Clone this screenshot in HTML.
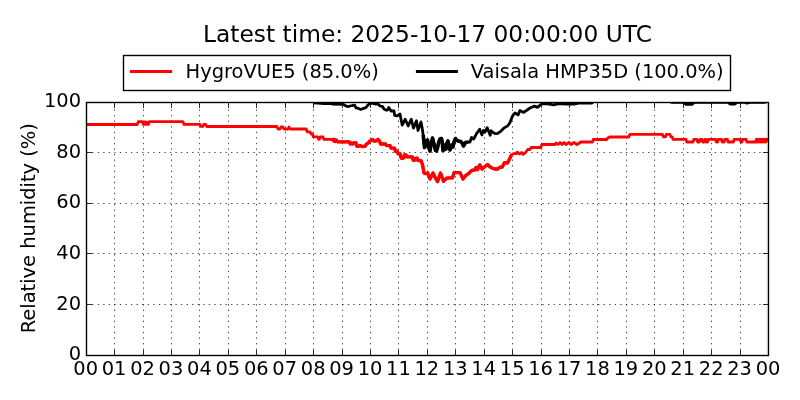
<!DOCTYPE html>
<html><head><meta charset="utf-8"><title>Relative humidity</title>
<style>html,body{margin:0;padding:0;background:#fff;width:800px;height:400px;overflow:hidden}svg{display:block;will-change:transform}</style>
</head><body>
<svg width="800" height="400" viewBox="0 0 800 400">
<rect width="800" height="400" fill="#fff"/>
<defs><clipPath id="c"><rect x="86.50" y="102.50" width="682.00" height="253.00"/></clipPath></defs>
<path d="M114.50 355.5V102.5M143.50 355.5V102.5M171.50 355.5V102.5M199.50 355.5V102.5M228.50 355.5V102.5M256.50 355.5V102.5M285.50 355.5V102.5M313.50 355.5V102.5M342.50 355.5V102.5M370.50 355.5V102.5M398.50 355.5V102.5M427.50 355.5V102.5M455.50 355.5V102.5M484.50 355.5V102.5M512.50 355.5V102.5M541.50 355.5V102.5M569.50 355.5V102.5M597.50 355.5V102.5M626.50 355.5V102.5M654.50 355.5V102.5M683.50 355.5V102.5M711.50 355.5V102.5M740.50 355.5V102.5M86.5 304.50H768.5M86.5 253.50H768.5M86.5 203.50H768.5M86.5 152.50H768.5" stroke="#000" stroke-width="0.7" stroke-dasharray="1.39 4.17" fill="none"/>
<g clip-path="url(#c)" fill="none" stroke-width="2.78" stroke-linejoin="round" stroke-linecap="butt">
<polyline points="86.50,124.50 137.20,124.50 138.40,121.60 142.30,121.60 143.30,124.40 144.30,124.40 145.30,121.80 146.30,124.40 147.30,122.20 148.30,124.40 149.50,121.60 182.90,121.60 184.00,124.40 200.00,124.40 200.80,126.40 202.80,126.40 203.60,124.40 205.60,124.40 206.60,126.50 276.90,126.50 278.00,129.00 280.00,129.00 281.00,127.00 283.00,127.00 284.00,129.00 288.00,129.00 289.00,127.00 290.00,129.00 306.20,129.00 307.20,131.90 310.00,131.90 311.00,134.00 312.50,134.00 313.30,136.90 317.80,136.90 318.60,139.40 319.40,139.40 320.20,136.90 323.00,136.90 323.80,139.40 332.50,139.40 333.30,140.60 334.00,139.40 335.00,141.50 336.00,140.00 338.00,141.90 349.40,141.90 350.20,144.00 351.50,143.00 352.50,144.00 353.50,143.00 356.00,143.00 356.80,146.20 359.00,146.20 360.00,145.50 362.00,146.50 365.00,146.20 366.50,144.00 369.00,142.50 370.00,141.00 372.50,139.40 374.00,141.00 376.00,141.00 378.00,139.40 379.50,141.00 380.50,144.00 385.50,144.00 386.50,145.60 390.00,145.60 391.00,148.10 394.50,148.10 395.50,151.20 397.20,151.20 398.00,153.70 400.00,153.70 401.20,158.10 403.60,158.10 404.40,155.00 406.00,155.00 407.00,156.90 412.30,156.90 413.00,160.00 415.00,160.00 415.80,158.10 417.20,158.10 418.00,160.60 421.00,160.60 422.50,164.70 424.00,173.00 425.50,173.70 427.70,173.00 430.00,179.00 433.00,173.00 435.20,177.50 437.50,181.60 440.50,173.00 443.50,181.20 446.50,178.20 449.50,177.90 452.50,177.90 454.00,172.60 460.00,172.60 463.00,179.00 466.00,175.20 469.00,173.40 470.00,172.00 472.50,170.10 474.50,170.10 476.00,167.50 477.50,169.70 479.70,164.90 482.00,169.00 484.20,167.10 487.60,164.50 490.20,167.10 492.00,168.00 494.70,169.00 497.70,169.00 500.00,167.10 502.20,167.10 504.50,162.60 507.50,163.00 509.00,160.00 511.60,154.70 513.50,153.60 516.50,153.60 517.20,152.10 519.50,154.00 521.70,152.50 523.20,154.40 525.50,152.50 527.70,149.50 530.00,149.50 531.00,147.50 541.00,147.50 541.80,144.50 555.00,144.50 556.00,143.00 558.00,144.50 560.00,142.50 562.00,144.50 564.00,142.50 566.00,144.50 569.00,142.50 571.00,144.50 574.00,142.50 577.00,144.50 579.50,143.00 580.50,142.00 592.50,142.00 593.30,139.50 606.80,139.50 607.80,138.00 609.60,137.00 628.80,137.00 629.80,134.40 662.50,134.40 663.50,136.90 665.50,136.90 666.30,134.40 670.00,134.40 671.00,136.90 672.30,136.90 673.00,139.40 686.00,139.40 686.80,142.00 693.00,142.00 693.80,139.30 697.00,139.30 697.60,142.00 699.40,142.00 700.00,139.30 702.00,139.30 702.60,142.00 704.40,142.00 705.00,139.30 705.80,139.30 706.40,142.00 707.60,142.00 708.20,139.30 715.60,139.30 716.20,142.00 717.60,142.00 718.20,139.30 721.60,139.30 722.20,142.00 724.20,142.00 724.80,139.30 727.40,139.30 728.00,142.00 733.50,142.00 734.10,139.30 740.20,139.30 740.80,142.00 742.00,142.00 742.60,139.30 746.20,139.30 746.80,142.00 755.60,142.00 756.50,139.30 757.30,142.00 758.20,139.30 759.00,142.00 760.00,139.30 760.80,142.00 761.80,139.30 762.60,142.00 763.50,139.30 764.30,142.00 765.20,139.30 766.00,142.00 767.00,139.30 768.50,140.60" stroke="#ff0000"/>
<polyline points="313.00,102.80 318.00,103.20 324.00,103.60 330.00,103.40 333.00,104.20 342.00,104.30 344.00,104.60 346.00,106.00 348.00,106.60 350.00,106.00 352.50,105.50 354.70,105.20 356.00,107.90 358.50,108.40 360.70,109.40 363.70,108.40 366.00,107.50 367.50,105.60 369.70,103.40 372.00,103.20 375.00,104.00 378.00,104.00 379.50,105.50 381.00,106.40 382.50,106.40 384.00,109.00 386.00,110.10 387.50,110.00 388.70,107.50 391.00,111.00 394.00,111.00 394.70,115.50 397.00,115.90 400.00,114.00 402.20,125.20 405.20,119.20 408.20,126.00 411.20,119.20 413.50,128.20 416.50,120.70 418.00,130.50 421.00,121.90 422.00,127.00 423.20,135.00 424.50,147.50 425.50,141.00 426.50,146.00 427.50,140.00 428.50,145.00 430.00,151.00 431.00,145.00 432.50,138.00 433.50,142.00 434.50,146.00 435.50,150.50 436.50,151.00 437.50,148.00 438.50,143.00 440.00,139.00 441.50,138.50 442.20,142.00 443.00,150.50 444.00,150.00 445.00,145.00 446.00,149.00 447.00,143.00 448.00,141.00 449.00,146.00 450.00,150.00 451.00,147.00 452.00,145.00 453.00,147.00 454.00,142.00 455.50,138.50 457.00,140.50 458.50,141.10 460.70,141.50 462.00,143.00 463.50,146.00 465.50,142.50 468.00,142.00 470.00,142.00 471.50,137.50 473.70,139.00 476.70,133.40 479.70,129.20 482.00,134.90 483.50,130.40 485.00,132.20 487.20,127.70 490.20,135.20 491.00,130.70 493.00,132.50 495.50,133.70 497.00,133.70 500.00,131.90 503.00,128.90 505.00,127.40 507.50,126.00 509.70,123.20 512.00,117.20 513.50,114.50 515.00,113.00 518.10,114.90 520.00,110.50 523.70,112.40 530.00,108.00 534.40,106.10 537.50,107.40 541.20,104.20 546.20,103.60 553.70,104.90 558.70,103.60 566.20,104.00 575.00,104.00 580.00,103.00 592.00,103.00 594.00,101.00 604.00,101.00" stroke="#000"/>
<polyline points="668.00,101.00 672.00,102.40 684.00,102.40 686.00,104.40 692.00,104.40 694.00,102.40 728.00,102.40 730.00,104.00 735.00,104.00 737.00,102.40 745.00,102.40 747.00,103.20 750.00,102.40 765.00,102.40 767.00,101.00" stroke="#000"/>
<polyline points="332.50,139.40 333.30,140.60 334.00,139.40 335.00,141.50 336.00,140.00 338.00,141.90 349.40,141.90 350.20,144.00 351.50,143.00 352.50,144.00 353.50,143.00 356.00,143.00 356.80,146.20 359.00,146.20 360.00,145.50 362.00,146.50 365.00,146.20 366.50,144.00 369.00,142.50 370.00,141.00 372.50,139.40 374.00,141.00 376.00,141.00 378.00,139.40 379.50,141.00 380.50,144.00 385.50,144.00 386.50,145.60 390.00,145.60 391.00,148.10 394.50,148.10 395.50,151.20 397.20,151.20 398.00,153.70 400.00,153.70 401.20,158.10 403.60,158.10 404.40,155.00 406.00,155.00 407.00,156.90 412.30,156.90 413.00,160.00 415.00,160.00 415.80,158.10 417.20,158.10 418.00,160.60 421.00,160.60 422.50,164.70 424.00,173.00 425.50,173.70 427.70,173.00 430.00,179.00 433.00,173.00 435.20,177.50 437.50,181.60 440.50,173.00 443.50,181.20 446.50,178.20 449.50,177.90 452.50,177.90 454.00,172.60 460.00,172.60 463.00,179.00 466.00,175.20 469.00,173.40 470.00,172.00 472.50,170.10 474.50,170.10 476.00,167.50 477.50,169.70 479.70,164.90 482.00,169.00 484.20,167.10 487.60,164.50 490.20,167.10 492.00,168.00 494.70,169.00 497.70,169.00 500.00,167.10 502.20,167.10 504.50,162.60 507.50,163.00 509.00,160.00 511.60,154.70" stroke="#ff0000" stroke-width="3.4"/>
<polyline points="423.20,135.00 424.50,147.50 425.50,141.00 426.50,146.00 427.50,140.00 428.50,145.00 430.00,151.00 431.00,145.00 432.50,138.00 433.50,142.00 434.50,146.00 435.50,150.50 436.50,151.00 437.50,148.00 438.50,143.00 440.00,139.00 441.50,138.50 442.20,142.00 443.00,150.50 444.00,150.00 445.00,145.00 446.00,149.00 447.00,143.00 448.00,141.00 449.00,146.00 450.00,150.00 451.00,147.00 452.00,145.00 453.00,147.00 454.00,142.00 455.50,138.50 457.00,140.50 458.50,141.10 460.70,141.50 462.00,143.00 463.50,146.00 465.50,142.50 468.00,142.00" stroke="#000" stroke-width="3.6"/>
</g>
<line x1="767.2" y1="102.5" x2="767.2" y2="355.5" stroke="#008000" stroke-width="0.5" stroke-opacity="0.3"/>
<path d="M86.50 355.5v-5.56M86.50 102.5v5.56M114.50 355.5v-5.56M114.50 102.5v5.56M143.50 355.5v-5.56M143.50 102.5v5.56M171.50 355.5v-5.56M171.50 102.5v5.56M199.50 355.5v-5.56M199.50 102.5v5.56M228.50 355.5v-5.56M228.50 102.5v5.56M256.50 355.5v-5.56M256.50 102.5v5.56M285.50 355.5v-5.56M285.50 102.5v5.56M313.50 355.5v-5.56M313.50 102.5v5.56M342.50 355.5v-5.56M342.50 102.5v5.56M370.50 355.5v-5.56M370.50 102.5v5.56M398.50 355.5v-5.56M398.50 102.5v5.56M427.50 355.5v-5.56M427.50 102.5v5.56M455.50 355.5v-5.56M455.50 102.5v5.56M484.50 355.5v-5.56M484.50 102.5v5.56M512.50 355.5v-5.56M512.50 102.5v5.56M541.50 355.5v-5.56M541.50 102.5v5.56M569.50 355.5v-5.56M569.50 102.5v5.56M597.50 355.5v-5.56M597.50 102.5v5.56M626.50 355.5v-5.56M626.50 102.5v5.56M654.50 355.5v-5.56M654.50 102.5v5.56M683.50 355.5v-5.56M683.50 102.5v5.56M711.50 355.5v-5.56M711.50 102.5v5.56M740.50 355.5v-5.56M740.50 102.5v5.56M768.50 355.5v-5.56M768.50 102.5v5.56M86.5 355.50h5.56M768.5 355.50h-5.56M86.5 304.50h5.56M768.5 304.50h-5.56M86.5 253.50h5.56M768.5 253.50h-5.56M86.5 203.50h5.56M768.5 203.50h-5.56M86.5 152.50h5.56M768.5 152.50h-5.56M86.5 102.50h5.56M768.5 102.50h-5.56" stroke="#000" stroke-width="0.8" fill="none"/>
<rect x="86.5" y="102.5" width="682.0" height="253.0" fill="none" stroke="#000" stroke-width="1.39"/>
<g font-family="DejaVu Sans, Liberation Sans, sans-serif" font-size="19.44" fill="#000">
<text x="85.70" y="374.6" text-anchor="middle">00</text>
<text x="114.13" y="374.6" text-anchor="middle">01</text>
<text x="142.56" y="374.6" text-anchor="middle">02</text>
<text x="170.99" y="374.6" text-anchor="middle">03</text>
<text x="199.42" y="374.6" text-anchor="middle">04</text>
<text x="227.85" y="374.6" text-anchor="middle">05</text>
<text x="256.28" y="374.6" text-anchor="middle">06</text>
<text x="284.71" y="374.6" text-anchor="middle">07</text>
<text x="313.14" y="374.6" text-anchor="middle">08</text>
<text x="341.57" y="374.6" text-anchor="middle">09</text>
<text x="370.00" y="374.6" text-anchor="middle">10</text>
<text x="398.43" y="374.6" text-anchor="middle">11</text>
<text x="426.86" y="374.6" text-anchor="middle">12</text>
<text x="455.29" y="374.6" text-anchor="middle">13</text>
<text x="483.72" y="374.6" text-anchor="middle">14</text>
<text x="512.15" y="374.6" text-anchor="middle">15</text>
<text x="540.58" y="374.6" text-anchor="middle">16</text>
<text x="569.01" y="374.6" text-anchor="middle">17</text>
<text x="597.44" y="374.6" text-anchor="middle">18</text>
<text x="625.87" y="374.6" text-anchor="middle">19</text>
<text x="654.30" y="374.6" text-anchor="middle">20</text>
<text x="682.73" y="374.6" text-anchor="middle">21</text>
<text x="711.16" y="374.6" text-anchor="middle">22</text>
<text x="739.59" y="374.6" text-anchor="middle">23</text>
<text x="768.02" y="374.6" text-anchor="middle">00</text>
<text x="81.1" y="106.7" text-anchor="end">100</text>
<text x="81.1" y="157.9" text-anchor="end">80</text>
<text x="81.1" y="207.9" text-anchor="end">60</text>
<text x="81.1" y="258.8" text-anchor="end">40</text>
<text x="81.1" y="309.9" text-anchor="end">20</text>
<text x="81.1" y="359.5" text-anchor="end">0</text>
<text transform="translate(35.2 228.2) rotate(-90)" text-anchor="middle">Relative humidity (%)</text>
</g>
<text x="427.5" y="42" text-anchor="middle" font-family="DejaVu Sans, Liberation Sans, sans-serif" font-size="23.33">Latest time: 2025-10-17 00:00:00 UTC</text>
<rect x="123.5" y="55.5" width="607" height="35" fill="#fff" stroke="#000" stroke-width="1.39"/>
<line x1="130" y1="71.5" x2="172.1" y2="71.5" stroke="#ff0000" stroke-width="2.78"/>
<line x1="415.9" y1="71.5" x2="457.9" y2="71.5" stroke="#000" stroke-width="2.78"/>
<g font-family="DejaVu Sans, Liberation Sans, sans-serif" font-size="19.44"><text x="185.6" y="78">HygroVUE5 (85.0%)</text><text x="470.7" y="78">Vaisala HMP35D (100.0%)</text></g>
</svg>
</body></html>
